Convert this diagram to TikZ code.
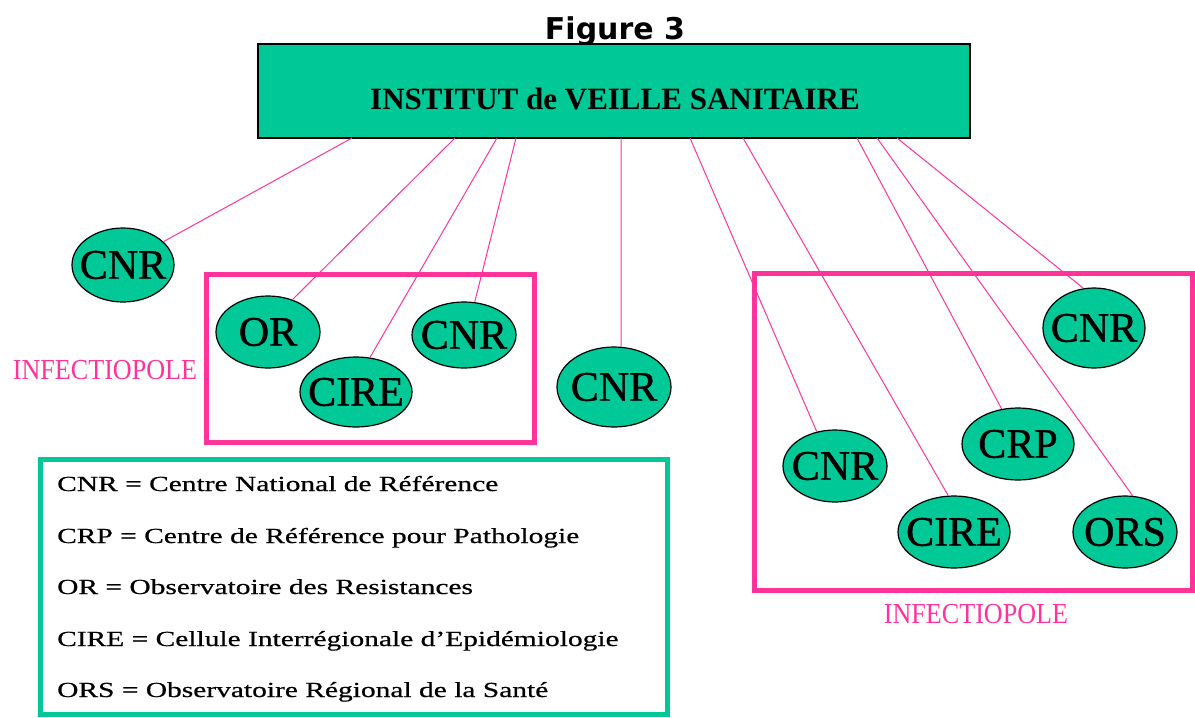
\documentclass[tikz,border=0pt]{standalone}
\usepackage{fontspec}
\setmainfont{Liberation Serif}
\newfontfamily\figfont{DejaVu Sans}
\newfontfamily\legfont[FakeStretch=1.37,FakeBold=0.6]{Liberation Serif}
\newfontfamily\infofont[FakeStretch=0.9]{Liberation Serif}
\newfontfamily\ellfont[FakeBold=0.9]{Liberation Serif}
\usetikzlibrary{shapes.geometric}
\definecolor{teal1}{RGB}{0,200,150}
\definecolor{pink1}{RGB}{255,51,153}
\begin{document}
\begin{tikzpicture}[x=1pt,y=-1pt,
  ell/.style 2 args={ellipse, draw=black, line width=1.2pt, fill=teal1, inner sep=0pt,
    minimum width=#1pt, minimum height=#2pt, font=\ellfont\fontsize{42}{42}\selectfont},
  link/.style={draw=pink1, line width=1pt},
  pbox/.style={draw=pink1, line width=5pt, rectangle, inner sep=0pt},
  lbox/.style={draw=teal1, line width=5pt, rectangle, inner sep=0pt},
  legtext/.style={anchor=base west, inner sep=0pt, font=\legfont\fontsize{21.5}{21.5}\selectfont},
  inflabel/.style={text=pink1, inner sep=0pt, font=\infofont\fontsize{29}{29}\selectfont}]
\useasboundingbox (0,0) rectangle (1195,718);

% title and main box
\node[anchor=base, inner sep=0pt, font=\figfont\bfseries\fontsize{30}{30}\selectfont] (fig) at (615,39) {Figure 3};
\node[draw=black, line width=1.5pt, fill=teal1, minimum width=712pt, minimum height=94pt, inner sep=0pt] (ivs) at (614,91) {};
\node[anchor=base, inner sep=0pt, font=\bfseries\fontsize{31}{31}\selectfont] (ivstxt) at (615,109) {INSTITUT de VEILLE SANITAIRE};

% infectiopole boxes
\node[pbox, minimum width=328pt, minimum height=168pt] (inf1) at (370.5,358.5) {};
\node[pbox, minimum width=438pt, minimum height=317pt] (inf2) at (973.5,432) {};
\node[inflabel] (inf1lab) at (105,370) {INFECTIOPOLE};
\node[inflabel] (inf2lab) at (976,614) {INFECTIOPOLE};

% start points on the bottom of the main box
\coordinate (t1) at (352,138);
\coordinate (t2) at (455,138);
\coordinate (t3) at (497,138);
\coordinate (t4) at (516,138);
\coordinate (t5) at (621,138);
\coordinate (t6) at (690,138);
\coordinate (t7) at (743,138);
\coordinate (t8) at (857,138);
\coordinate (t9) at (877,138);
\coordinate (t10) at (897,138);

% ellipses
\node[ell={102}{74}] (cnrA) at (123,265) {\makebox[0pt]{CNR}};
\node[ell={104}{72}] (orL) at (268,332) {\makebox[0pt]{OR}};
\node[ell={112}{70}] (cireL) at (356,392) {\makebox[0pt]{CIRE}};
\node[ell={104}{66}] (cnrB) at (464,335) {\makebox[0pt]{CNR}};
\node[ell={114}{80}] (cnrC) at (614,387) {\makebox[0pt]{CNR}};
\node[ell={102}{80}] (cnrE) at (1094,328) {\makebox[0pt]{CNR}};
\node[ell={112}{72}] (crp) at (1018,444) {\makebox[0pt]{CRP}};
\node[ell={104}{72}] (cnrD) at (835,466) {\makebox[0pt]{CNR}};
\node[ell={112}{72}] (cireR) at (954,532) {\makebox[0pt]{CIRE}};
\node[ell={104}{72}] (ors) at (1125,532) {\makebox[0pt]{ORS}};

% connectors
\draw[link] (t1) -- (cnrA.30);
\draw[link] (t2) -- (orL.53);
\draw[link] (t3) -- (cireL.68);
\draw[link] (t4) -- (cnrB.72);
\draw[link] (t5) -- (cnrC.80);
\draw[link] (t6) -- (cnrD.118);
\draw[link] (t7) -- (cireR.99);
\draw[link] (t8) -- (crp.115);
\draw[link] (t9) -- (ors.78);
\draw[link] (t10) -- (cnrE.105);

% legend
\node[lbox, minimum width=627.5pt, minimum height=255.5pt] (leg) at (353.75,586.75) {};
\node[legtext] (l1) at (57,491) {CNR = Centre National de Référence};
\node[legtext] (l2) at (57,543) {CRP = Centre de Référence pour Pathologie};
\node[legtext] (l3) at (57,594) {OR = Observatoire des Resistances};
\node[legtext] (l4) at (57,646) {CIRE = Cellule Interrégionale d’Epidémiologie};
\node[legtext] (l5) at (57,697) {ORS = Observatoire Régional de la Santé};
\end{tikzpicture}
\end{document}
